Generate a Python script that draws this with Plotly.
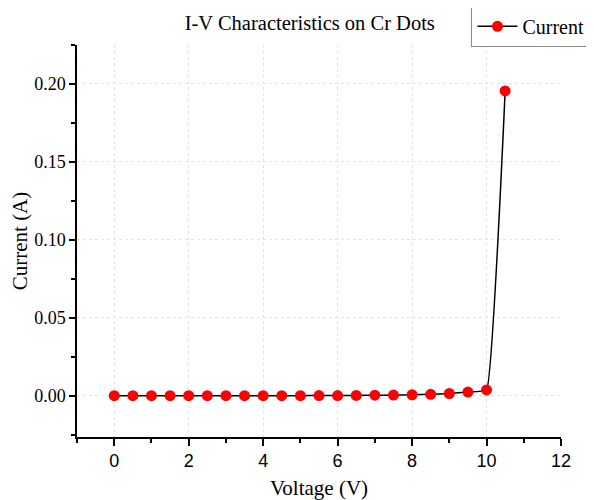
import plotly.graph_objects as go

voltage = [0, 0.5, 1, 1.5, 2, 2.5, 3, 3.5, 4, 4.5, 5, 5.5, 6, 6.5, 7, 7.5, 8, 8.5, 9, 9.5, 10, 10.5]
current = [0.0, 0.0, 0.0, 0.0, 0.0, 0.0, 0.0, 0.0, 0.0, 0.0, 0.0, 0.0001, 0.0001, 0.0002,
           0.0003, 0.0004, 0.0006, 0.0009, 0.0014, 0.0023, 0.0037, 0.1955]

serif = "Liberation Serif, Times New Roman, serif"
sans = "Liberation Sans, Arial, sans-serif"

fig = go.Figure()
fig.add_trace(go.Scatter(
    x=voltage, y=current, name="Current",
    mode="lines+markers",
    line=dict(color="black", width=1.5, shape="spline", smoothing=0.25),
    marker=dict(color="red", size=11, line=dict(width=0)),
))

# page has an 8px body margin, so the figure is drawn 8px smaller
fig.update_layout(
    width=586, height=492,
    paper_bgcolor="white", plot_bgcolor="white",
    margin=dict(l=69, r=33, t=37, b=63, autoexpand=False),
    title=dict(text="I-V Characteristics on Cr Dots", x=0.515, xanchor="center",
               y=0.97, yanchor="middle", font=dict(family=serif, size=20.5, color="black")),
    showlegend=True,
    legend=dict(x=0.815, y=1.1, xanchor="left", yanchor="top",
                bordercolor="#888888", borderwidth=1, bgcolor="white",
                font=dict(family=serif, size=20, color="black"),
                itemwidth=40, tracegroupgap=0),
)

fig.update_xaxes(
    range=[-1, 12], tickvals=[0, 2, 4, 6, 8, 10, 12],
    ticks="outside", ticklen=7, tickwidth=1.5, tickcolor="black",
    minor=dict(tickvals=[-1, 1, 3, 5, 7, 9, 11], ticks="outside", ticklen=4,
               tickwidth=1.5, tickcolor="black", showgrid=False),
    showline=True, linecolor="black", linewidth=1.5,
    showgrid=True, gridcolor="#e4e4e4", griddash="dot", gridwidth=1,
    zeroline=False,
    tickfont=dict(family=sans, size=18, color="black"),
    title=dict(text="Voltage (V)", font=dict(family=serif, size=21, color="black"), standoff=14),
)
fig.update_yaxes(
    range=[-0.0265, 0.225], tickvals=[0, 0.05, 0.10, 0.15, 0.20],
    tickformat=".2f",
    ticks="outside", ticklen=6, tickwidth=1.5, tickcolor="black",
    minor=dict(tickvals=[-0.025, 0.025, 0.075, 0.125, 0.175, 0.225], ticks="outside",
               ticklen=4, tickwidth=1.5, tickcolor="black", showgrid=False),
    showline=True, linecolor="black", linewidth=1.5,
    showgrid=True, gridcolor="#e4e4e4", griddash="dot", gridwidth=1,
    zeroline=False,
    tickfont=dict(family=serif, size=18, color="black"),
    title=dict(text="Current (A)", font=dict(family=serif, size=21, color="black"), standoff=2),
)

fig.write_html("out.html")
